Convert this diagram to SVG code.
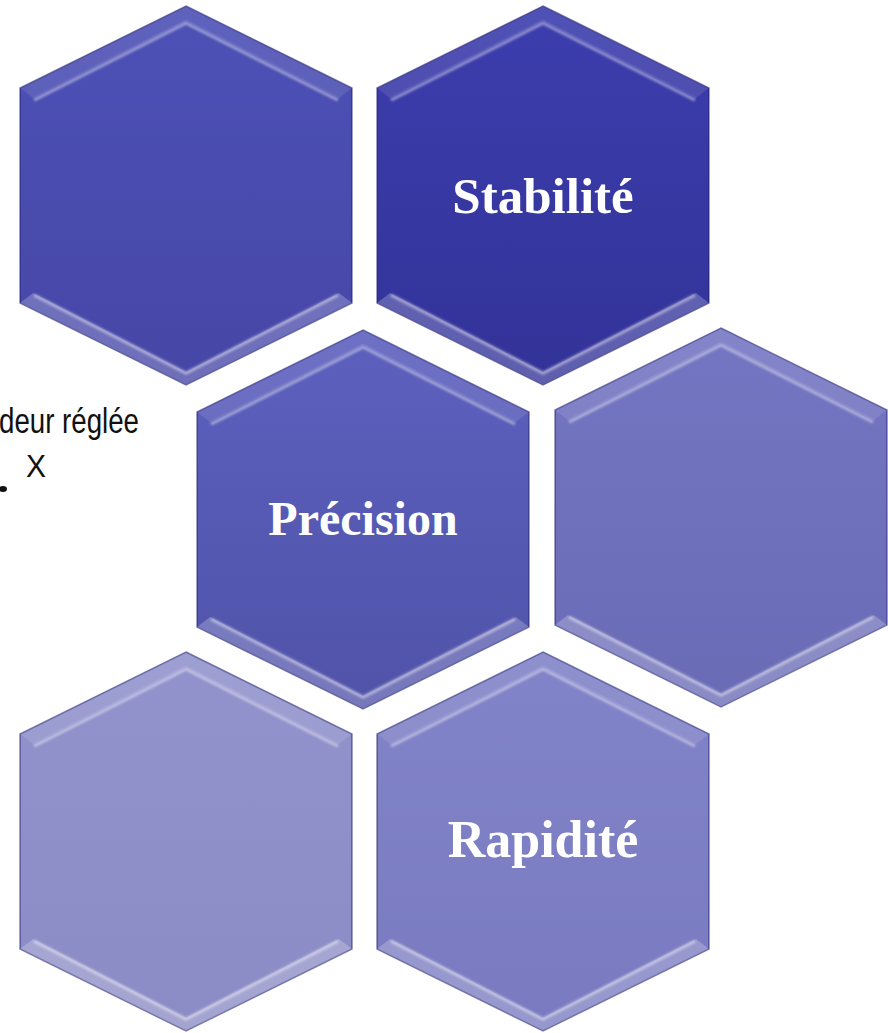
<svg xmlns="http://www.w3.org/2000/svg" width="888" height="1033" viewBox="0 0 888 1033">
<style>
.outer{stroke:#1e1e6e;stroke-opacity:0.55;stroke-width:1.5}
.topband{fill:#ffffff;fill-opacity:0.10}
.botband{fill:#ffffff;fill-opacity:0.22}
.hl{fill:none;stroke:#ffffff;stroke-opacity:0.4;stroke-width:3.5;filter:url(#blur)}
.lbl{font-family:"Liberation Serif","Times New Roman",serif;font-weight:bold;fill:#ffffff;text-anchor:middle}
.side{font-family:"Liberation Sans",Arial,sans-serif;fill:#111111}
</style>
<defs>
<filter id="blur" x="-10%" y="-10%" width="120%" height="120%"><feGaussianBlur stdDeviation="1.2"/></filter>
<path id="hexOuter" d="M0,0 L166,82 L166,297 L0,379 L-166,297 L-166,82 Z"/>
<path id="topBand" d="M-166,82 L0,0 L166,82 L153,92 L0,15 L-153,92 Z"/>
<path id="botBand" d="M-166,297 L0,379 L166,297 L153,287 L0,366 L-153,287 Z"/>
<path id="topHl" d="M-152,94 L0,17 L152,94"/>
<path id="botHl" d="M-152,289 L0,367 L152,289"/>
<linearGradient id="g1" x1="0" y1="0" x2="0" y2="1"><stop offset="0" stop-color="#4d51b6"/><stop offset="1" stop-color="#4646a6"/></linearGradient>
<linearGradient id="g2" x1="0" y1="0" x2="0" y2="1"><stop offset="0" stop-color="#3d3eae"/><stop offset="1" stop-color="#323298"/></linearGradient>
<linearGradient id="g3" x1="0" y1="0" x2="0" y2="1"><stop offset="0" stop-color="#5d60be"/><stop offset="1" stop-color="#5053a8"/></linearGradient>
<linearGradient id="g4" x1="0" y1="0" x2="0" y2="1"><stop offset="0" stop-color="#7576c3"/><stop offset="1" stop-color="#6a6bb5"/></linearGradient>
<linearGradient id="g5" x1="0" y1="0" x2="0" y2="1"><stop offset="0" stop-color="#9293cd"/><stop offset="1" stop-color="#8b8bc5"/></linearGradient>
<linearGradient id="g6" x1="0" y1="0" x2="0" y2="1"><stop offset="0" stop-color="#8284c9"/><stop offset="1" stop-color="#797abf"/></linearGradient>
</defs>
<rect width="888" height="1033" fill="#ffffff"/>

<g id="side-text">
<text class="side" x="-1" y="433" font-size="35" textLength="140" lengthAdjust="spacingAndGlyphs">deur réglée</text>
<text class="side" x="26" y="477" font-size="31" textLength="20" lengthAdjust="spacingAndGlyphs">X</text>
<ellipse cx="3" cy="489" rx="4" ry="3" fill="#111111"/>
</g>

<g id="connectors"/>

<g id="hex-1" transform="translate(186,6)">
<use href="#hexOuter" class="outer" fill="url(#g1)"/>
<use href="#topBand" class="topband"/>
<use href="#botBand" class="botband"/>
<use href="#topHl" class="hl"/>
<use href="#botHl" class="hl"/>
</g>

<g id="hex-stabilite" transform="translate(543,6)">
<use href="#hexOuter" class="outer" fill="url(#g2)"/>
<use href="#topBand" class="topband"/>
<use href="#botBand" class="botband"/>
<use href="#topHl" class="hl"/>
<use href="#botHl" class="hl"/>
<text class="lbl" x="0" y="207" font-size="51">Stabilité</text>
</g>

<g id="hex-precision" transform="translate(363,330)">
<use href="#hexOuter" class="outer" fill="url(#g3)"/>
<use href="#topBand" class="topband"/>
<use href="#botBand" class="botband"/>
<use href="#topHl" class="hl"/>
<use href="#botHl" class="hl"/>
<text class="lbl" x="0" y="205" font-size="48">Précision</text>
</g>

<g id="hex-4" transform="translate(721,328)">
<use href="#hexOuter" class="outer" fill="url(#g4)"/>
<use href="#topBand" class="topband"/>
<use href="#botBand" class="botband"/>
<use href="#topHl" class="hl"/>
<use href="#botHl" class="hl"/>
</g>

<g id="hex-5" transform="translate(186,652)">
<use href="#hexOuter" class="outer" fill="url(#g5)"/>
<use href="#topBand" class="topband"/>
<use href="#botBand" class="botband"/>
<use href="#topHl" class="hl"/>
<use href="#botHl" class="hl"/>
</g>

<g id="hex-rapidite" transform="translate(543,652)">
<use href="#hexOuter" class="outer" fill="url(#g6)"/>
<use href="#topBand" class="topband"/>
<use href="#botBand" class="botband"/>
<use href="#topHl" class="hl"/>
<use href="#botHl" class="hl"/>
<text class="lbl" x="0" y="205" font-size="52">Rapidité</text>
</g>
</svg>
